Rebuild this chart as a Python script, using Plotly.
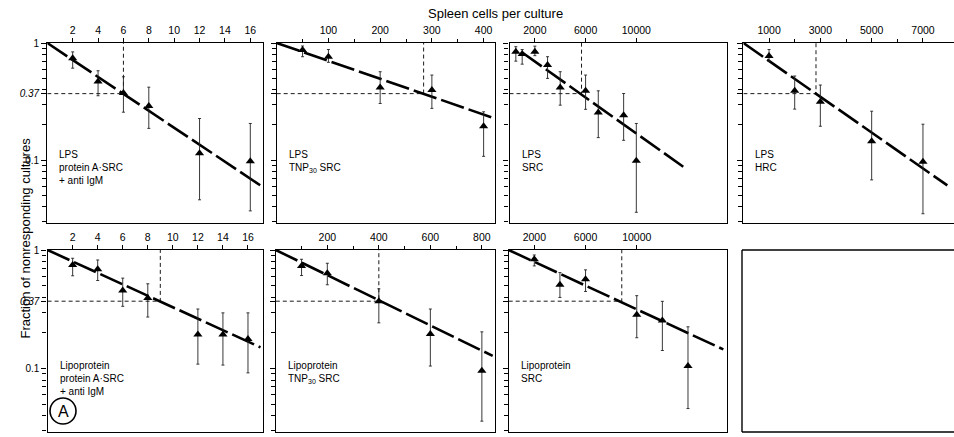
import plotly.graph_objects as go

W, H = 954, 437

# ---------------- data ----------------
# Panel 1: LPS, protein A·SRC + anti IgM  (x: cells per culture)
p1_x = [2, 4, 6, 8, 12, 16]
p1_y = [0.74, 0.47, 0.375, 0.29, 0.115, 0.098]
p1_hi = [0.84, 0.58, 0.515, 0.42, 0.227, 0.206]
p1_lo = [0.61, 0.355, 0.257, 0.187, 0.046, 0.037]
p1_fit_x = [0, 17]
p1_fit_y = [1.0, 0.059]
p1_x37 = 6

# Panel 2: LPS, TNP30 SRC
p2_x = [50, 100, 200, 300, 400]
p2_y = [0.87, 0.765, 0.418, 0.397, 0.195]
p2_hi = [0.943, 0.88, 0.569, 0.533, 0.259]
p2_lo = [0.764, 0.684, 0.305, 0.277, 0.108]
p2_fit_x = [0, 422]
p2_fit_y = [1.0, 0.227]
p2_x37 = 284

# Panel 3: LPS, SRC
p3_x = [500, 1000, 2000, 3000, 4000, 6000, 7000, 9000, 10000]
p3_y = [0.843, 0.805, 0.843, 0.649, 0.418, 0.391, 0.255, 0.242, 0.099]
p3_hi = [0.93, 0.88, 0.94, 0.764, 0.569, 0.533, 0.391, 0.371, 0.206]
p3_lo = [0.70, 0.66, 0.78, 0.499, 0.295, 0.272, 0.156, 0.148, 0.036]
p3_fit_x = [1000, 13700]
p3_fit_y = [0.83, 0.088]
p3_x37 = 5680

# Panel 4: LPS, HRC
p4_x = [1000, 2000, 3000, 5000, 7000]
p4_y = [0.774, 0.391, 0.315, 0.145, 0.097]
p4_hi = [0.88, 0.523, 0.438, 0.262, 0.203]
p4_lo = [0.70, 0.273, 0.195, 0.068, 0.035]
p4_fit_x = [0, 7950]
p4_fit_y = [1.0, 0.061]
p4_x37 = 2830

# Panel 5: Lipoprotein, protein A·SRC + anti IgM
p5_x = [2, 4, 6, 8, 12, 14, 16]
p5_y = [0.749, 0.689, 0.456, 0.394, 0.194, 0.194, 0.178]
p5_hi = [0.852, 0.824, 0.579, 0.519, 0.318, 0.295, 0.295]
p5_lo = [0.606, 0.553, 0.335, 0.272, 0.109, 0.107, 0.092]
p5_fit_x = [0, 17]
p5_fit_y = [1.0, 0.151]
p5_x37 = 9

# Panel 6: Lipoprotein, TNP30 SRC
p6_x = [100, 200, 400, 600, 800]
p6_y = [0.734, 0.637, 0.369, 0.196, 0.096]
p6_hi = [0.835, 0.773, 0.471, 0.318, 0.204]
p6_lo = [0.609, 0.509, 0.243, 0.105, 0.036]
p6_fit_x = [0, 842]
p6_fit_y = [1.0, 0.128]
p6_x37 = 400

# Panel 7: Lipoprotein, SRC
p7_x = [2000, 4000, 6000, 10000, 12000, 14000]
p7_y = [0.836, 0.509, 0.567, 0.285, 0.254, 0.105]
p7_hi = [0.908, 0.645, 0.68, 0.412, 0.369, 0.225]
p7_lo = [0.734, 0.398, 0.447, 0.182, 0.142, 0.046]
p7_fit_x = [0, 16760]
p7_fit_y = [1.0, 0.145]
p7_x37 = 8830

# axis ticks
p1_ticks = [2, 4, 6, 8, 10, 12, 14, 16]
p2_ticks = [100, 200, 300, 400]
p2_minor = [50, 150, 250, 350]
p3_ticks = [2000, 6000, 10000]
p4_ticks = [1000, 3000, 5000, 7000]
p4_minor = [2000, 4000, 6000]
p6_ticks = [200, 400, 600, 800]
p6_minor = [100, 300, 500, 700]
y_ticks = [1, 0.37, 0.1]
y_ticktext = ["1", "<i>0.37</i>", "0.1"]
y_minor = [0.9, 0.8, 0.7, 0.6, 0.5, 0.4, 0.3, 0.2,
           0.09, 0.08, 0.07, 0.06, 0.05, 0.04, 0.03]

p1_label = "LPS<br>protein A·SRC<br>+ anti IgM"
p2_label = "LPS<br>TNP<sub>30</sub> SRC"
p3_label = "LPS<br>SRC"
p4_label = "LPS<br>HRC"
p5_label = "Lipoprotein<br>protein A·SRC<br>+ anti IgM"
p6_label = "Lipoprotein<br>TNP<sub>30</sub> SRC"
p7_label = "Lipoprotein<br>SRC"

# ---------------- layout geometry (pixels) ----------------
def fx(px):
    return px / W

def fy(py):
    return 1 - py / H

panels = [
    dict(x=p1_x, y=p1_y, hi=p1_hi, lo=p1_lo, fx_=p1_fit_x, fy_=p1_fit_y, x37=p1_x37,
         xr=[0, 17], ticks=p1_ticks, minor=[], px=(47.3, 263), row=0, label=p1_label, ylab=True),
    dict(x=p2_x, y=p2_y, hi=p2_hi, lo=p2_lo, fx_=p2_fit_x, fy_=p2_fit_y, x37=p2_x37,
         xr=[0, 422], ticks=p2_ticks, minor=p2_minor, px=(276.7, 495), row=0, label=p2_label, ylab=False),
    dict(x=p3_x, y=p3_y, hi=p3_hi, lo=p3_lo, fx_=p3_fit_x, fy_=p3_fit_y, x37=p3_x37,
         xr=[0, 17150], ticks=p3_ticks, minor=[], px=(509.5, 727), row=0, label=p3_label, ylab=False),
    dict(x=p4_x, y=p4_y, hi=p4_hi, lo=p4_lo, fx_=p4_fit_x, fy_=p4_fit_y, x37=p4_x37,
         xr=[0, 8210], ticks=p4_ticks, minor=p4_minor, px=(743.4, 954), row=0, label=p4_label, ylab=False),
    dict(x=p5_x, y=p5_y, hi=p5_hi, lo=p5_lo, fx_=p5_fit_x, fy_=p5_fit_y, x37=p5_x37,
         xr=[0, 17.2], ticks=p1_ticks, minor=[], px=(47.6, 263), row=1, label=p5_label, ylab=True),
    dict(x=p6_x, y=p6_y, hi=p6_hi, lo=p6_lo, fx_=p6_fit_x, fy_=p6_fit_y, x37=p6_x37,
         xr=[0, 851], ticks=p6_ticks, minor=p6_minor, px=(275.8, 495), row=1, label=p6_label, ylab=False),
    dict(x=p7_x, y=p7_y, hi=p7_hi, lo=p7_lo, fx_=p7_fit_x, fy_=p7_fit_y, x37=p7_x37,
         xr=[0, 17070], ticks=p3_ticks, minor=[], px=(508.7, 727.3), row=1, label=p7_label, ylab=False),
]
rows_px = [(43, 223), (250, 432)]
YR = [-1.535, 0]

fig = go.Figure()
layout = dict(width=W, height=H, autosize=False,
              margin=dict(l=0, r=0, t=0, b=0, pad=0, autoexpand=False),
              paper_bgcolor="white", plot_bgcolor="white", showlegend=False,
              font=dict(family="Liberation Sans, Arial, sans-serif", color="black", size=10))
annotations = []
shapes = []

for i, p in enumerate(panels, start=1):
    xa = "x" if i == 1 else f"x{i}"
    ya = "y" if i == 1 else f"y{i}"
    top, bot = rows_px[p["row"]]
    # reference dashed lines at 37%
    fig.add_trace(go.Scatter(x=[0, p["x37"], p["x37"]], y=[0.37, 0.37, 1.0], mode="lines",
                             line=dict(color="black", width=0.9, dash="4px,3px"),
                             xaxis=xa, yaxis=ya, hoverinfo="skip"))
    # fitted line
    fig.add_trace(go.Scatter(x=p["fx_"], y=p["fy_"], mode="lines",
                             line=dict(color="black", width=2.6, dash="24px,5px"),
                             xaxis=xa, yaxis=ya, hoverinfo="skip"))
    # points with error bars
    plus = [h - v for h, v in zip(p["hi"], p["y"])]
    minus = [v - l for v, l in zip(p["y"], p["lo"])]
    fig.add_trace(go.Scatter(x=p["x"], y=p["y"], mode="markers",
                             marker=dict(symbol="triangle-up", size=8, color="black"),
                             error_y=dict(type="data", symmetric=False, array=plus, arrayminus=minus,
                                          color="#222", thickness=0.9, width=1.5),
                             xaxis=xa, yaxis=ya))
    key_x = "xaxis" if i == 1 else f"xaxis{i}"
    key_y = "yaxis" if i == 1 else f"yaxis{i}"
    xdict = dict(domain=[fx(p["px"][0]), fx(p["px"][1])], anchor=ya, side="top",
                 range=p["xr"], tickmode="array", tickvals=p["ticks"],
                 ticktext=[str(t) for t in p["ticks"]], automargin=False,
                 ticks="outside", ticklen=4, tickwidth=1, tickcolor="black",
                 showline=True, linecolor="black", linewidth=1.4, mirror=True,
                 showgrid=False, zeroline=False, tickfont=dict(size=10.5))
    if p["minor"]:
        xdict["minor"] = dict(tickmode="array", tickvals=p["minor"], ticks="outside",
                              ticklen=3, tickcolor="black", showgrid=False)
    layout[key_x] = xdict
    layout[key_y] = dict(domain=[fy(bot), fy(top)], anchor=xa, type="log", range=YR,
                         tickmode="array", tickvals=y_ticks, ticktext=y_ticktext,
                         showticklabels=p["ylab"], ticks="outside", ticklen=5, tickcolor="black",
                         minor=dict(tickmode="array", tickvals=y_minor, ticks="outside",
                                    ticklen=4, tickcolor="black", showgrid=False),
                         showline=True, linecolor="black", linewidth=1.4, mirror=True,
                         automargin=False,
                         showgrid=False, zeroline=False, tickfont=dict(size=10))
    # panel label
    tx = p["px"][0] + 10
    ty = top + 104 if p["row"] == 0 else top + 108
    annotations.append(dict(text=p["label"], x=fx(tx), y=fy(ty), xref="paper", yref="paper",
                            xanchor="left", yanchor="top", align="left", showarrow=False,
                            font=dict(size=10)))

# empty eighth panel frame (open to the right edge of the picture)
for (x0, y0, x1, y1) in [(742, 250, 960, 250), (742, 250, 742, 432), (742, 432, 960, 432)]:
    shapes.append(dict(type="line", xref="paper", yref="paper",
                       x0=fx(x0), x1=fx(x1), y0=fy(y0), y1=fy(y1),
                       line=dict(color="black", width=1.4)))
# circled A
shapes.append(dict(type="circle", xref="paper", yref="paper",
                   x0=fx(50), x1=fx(76), y0=fy(424), y1=fy(398),
                   line=dict(color="black", width=1.6)))
annotations.append(dict(text="A", x=fx(63), y=fy(411), xref="paper", yref="paper",
                        xanchor="center", yanchor="middle",
                        showarrow=False, font=dict(size=16)))

annotations.append(dict(text="Spleen cells per culture", x=fx(495), y=fy(4), xref="paper",
                        yref="paper", xanchor="center", yanchor="top",
                        showarrow=False, font=dict(size=13)))
annotations.append(dict(text="Fraction of nonresponding cultures", x=fx(15), y=fy(238),
                        xref="paper", yref="paper", showarrow=False, textangle=-90,
                        font=dict(size=13)))

layout["annotations"] = annotations
layout["shapes"] = shapes
fig.update_layout(**layout)
fig.write_html("out.html", config={"responsive": False, "displayModeBar": False},
               post_script="document.body.style.margin='0';document.body.style.overflow='hidden';"
                           "document.documentElement.style.overflow='hidden';")
